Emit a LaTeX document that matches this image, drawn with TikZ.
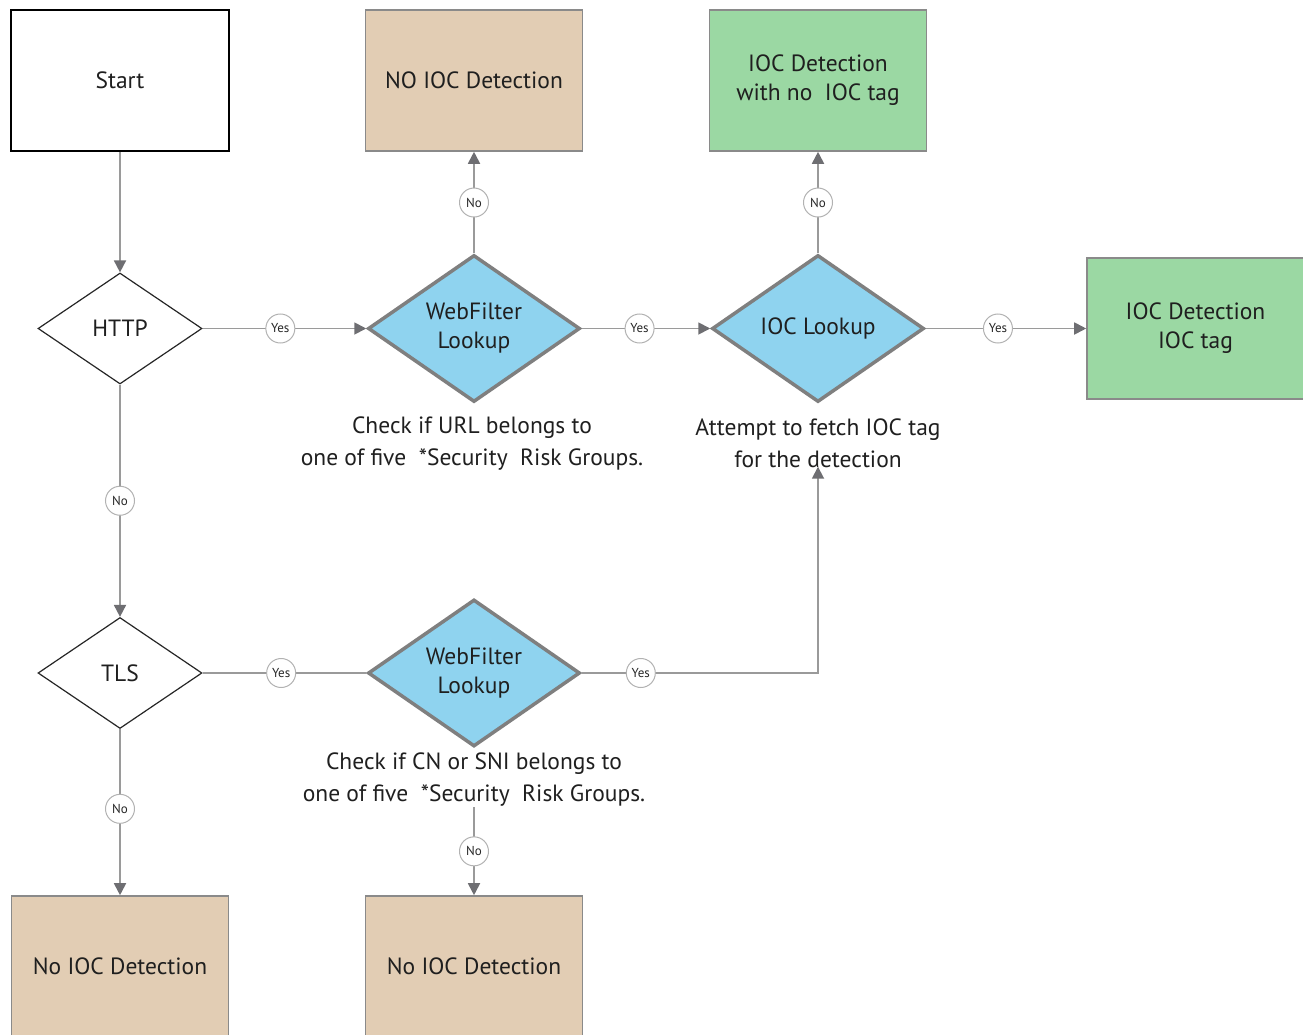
\documentclass[tikz,border=0pt]{standalone}
\usepackage{fontspec}
\setmainfont{PT Sans}
\usetikzlibrary{shapes.geometric,arrows.meta}
\definecolor{lnc}{HTML}{9A9A9A}
\definecolor{tipc}{HTML}{6E6E72}
\definecolor{dborder}{HTML}{7F7F7F}
\definecolor{bluef}{HTML}{8FD3EF}
\definecolor{tanf}{HTML}{E2CDB4}
\definecolor{greenf}{HTML}{9BD8A3}
\definecolor{boxb}{HTML}{8A8A8A}
\begin{document}
\begin{tikzpicture}[x=1pt,y=-1pt,
  txt/.style={font=\fontsize{23.5}{29}\selectfont, align=center, text=black!88},
  startbox/.style={txt, draw=black, line width=2pt, fill=white, minimum width=218pt, minimum height=141pt, inner sep=0pt},
  resbox/.style={txt, draw=boxb, line width=1.6pt, minimum width=217pt, minimum height=141pt, inner sep=0pt},
  decw/.style={txt, diamond, draw=black!85, line width=1.2pt, fill=white, minimum width=164pt, minimum height=111pt, inner sep=0pt},
  decb/.style={txt, diamond, draw=dborder, line width=3.5pt, fill=bluef, minimum width=212pt, minimum height=147pt, inner sep=0pt},
  note/.style={font=\fontsize{23.5}{32}\selectfont, align=center, text=black!88, inner sep=1pt},
  lbl/.style={circle, draw=black!30, line width=1pt, fill=white, minimum size=29pt, inner sep=0pt, font=\fontsize{13}{13}\selectfont, text=black!85},
  conn/.style={draw=lnc, line width=1.8pt, -{Triangle[length=12pt,width=12pt,color=tipc]}},
  connn/.style={draw=lnc, line width=1.8pt}
]
\useasboundingbox (0,0) rectangle (1303,1035);
\clip (0,0) rectangle (1303,1035);

\node[startbox] (start) at (120,80.5) {Start};
\node[decw] (http) at (120,328.5) {HTTP};
\node[decw] (tls) at (120,673) {TLS};
\node[decb] (wf1) at (474,328.5) {WebFilter\\Lookup};
\node[decb] (ioc) at (818,328.5) {IOC Lookup};
\node[decb] (wf2) at (474,673) {WebFilter\\Lookup};

\node[resbox, fill=tanf] (noioc1) at (474,80.5) {NO IOC Detection};
\node[resbox, fill=greenf] (iocnotag) at (818,80.5) {IOC Detection\\with no~ IOC tag};
\node[resbox, fill=greenf] (ioctag) at (1195.5,328.5) {IOC Detection\\IOC tag};
\node[resbox, fill=tanf] (noioc2) at (120,966.5) {No IOC Detection};
\node[resbox, fill=tanf] (noioc3) at (474,966.5) {No IOC Detection};

\node[note] (n1) at (472,444) {Check if URL belongs to\\one of five~ *Security~ Risk Groups.};
\node[note] (n2) at (818,443) {Attempt to fetch IOC tag\\for the detection};
\node[note] (n3) at (474,779.5) {Check if CN or SNI belongs to\\one of five~ *Security~ Risk Groups.};

\draw[conn] (start.south) -- (http.north);
\draw[conn] (http.east) -- node[lbl, pos=0.475]{Yes} (wf1.west);
\draw[conn] (wf1.north) -- node[lbl]{No} (noioc1.south);
\draw[conn] (wf1.east) -- node[lbl, pos=0.45]{Yes} (ioc.west);
\draw[conn] (ioc.north) -- node[lbl]{No} (iocnotag.south);
\draw[conn] (ioc.east) -- node[lbl, pos=0.45]{Yes} (ioctag.west);
\draw[conn] (http.south) -- node[lbl]{No} (tls.north);
\draw[connn] (tls.east) -- node[lbl, pos=0.48]{Yes} (wf2.west);
\draw[conn] (wf2.east) -- node[lbl, pos=0.25]{Yes} (wf2.east -| n2.south) -- ([yshift=2pt]n2.south);
\draw[conn] (n3.south) -- node[lbl]{No} (noioc3.north);
\draw[conn] (tls.south) -- node[lbl, pos=0.48]{No} (noioc2.north);
\end{tikzpicture}
\end{document}
